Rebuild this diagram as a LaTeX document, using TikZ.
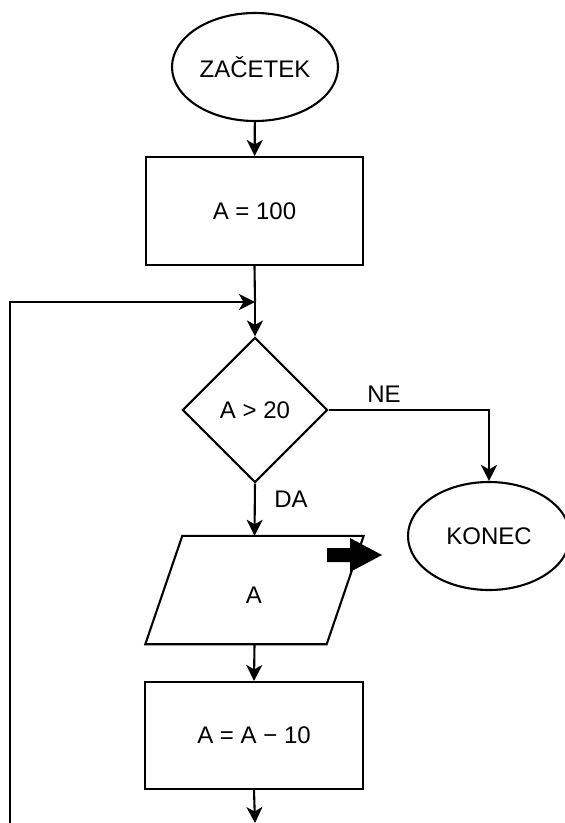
\documentclass[tikz,border=0pt]{standalone}
\usepackage{fontspec}
\setmainfont{Liberation Sans}
\usetikzlibrary{shapes.geometric,arrows.meta}
\begin{document}
\begin{tikzpicture}[x=1pt,y=-1pt,
  every node/.style={font=\fontsize{24}{28}\selectfont, inner sep=0pt},
  shp/.style={draw=black, line width=2.1pt},
  term/.style={shp, ellipse},
  procbox/.style={shp, rectangle},
  dec/.style={shp, diamond},
  conn/.style={line width=2.1pt, -{Stealth[length=16pt,width=16pt,inset=4.5pt]}},
  lbl/.style={}
]
\useasboundingbox[fill=white] (0,0) rectangle (565,823);

\node[term, minimum width=166, minimum height=108] (start) at (255,67) {ZAČETEK};
\node[procbox, minimum width=217, minimum height=108] (r1) at (254.5,211) {A = 100};
\coordinate (j) at (255,302);
\node[dec, minimum width=145, minimum height=145] (d) at (255,410) {A > 20};
\node[term, minimum width=162, minimum height=108] (k) at (489,536) {KONEC};
\node[minimum width=181, minimum height=108] (io) at (254.5,590) {};
\node (iot) at (254,595) {A};
\draw[shp, line join=miter] ([xshift=18.5]io.north west) -- ([xshift=18.5]io.north east)
  -- ([xshift=-18.5]io.south east) -- ([xshift=-18.5]io.south west) -- cycle;
\node[procbox, minimum width=218, minimum height=107] (r2) at (254,735.5) {A = A − 10};
\coordinate (endp) at (255,823);
\coordinate (lb) at (10,830);

% big black arrow
\fill[black] (327,548) -- (350,548) -- (350,538) -- (382,555) -- (350,572) -- (350,562) -- (327,562) -- cycle;

\draw[conn] (start) -- (r1);
\draw[line width=2.1pt] (r1.south) -- (j);
\draw[conn] (j) -- (d.north);
\draw[conn] (lb) |- (j);
\draw[conn] (d.east) -| (k.north);
\draw[conn] (d.south) -- (io.north);
\draw[conn] (io.south) -- (r2.north);
\draw[conn] (r2.south) -- (endp);

\node[lbl] (ne) at (384,394) {NE};
\node[lbl] (da) at (291,499) {DA};
\end{tikzpicture}
\end{document}
